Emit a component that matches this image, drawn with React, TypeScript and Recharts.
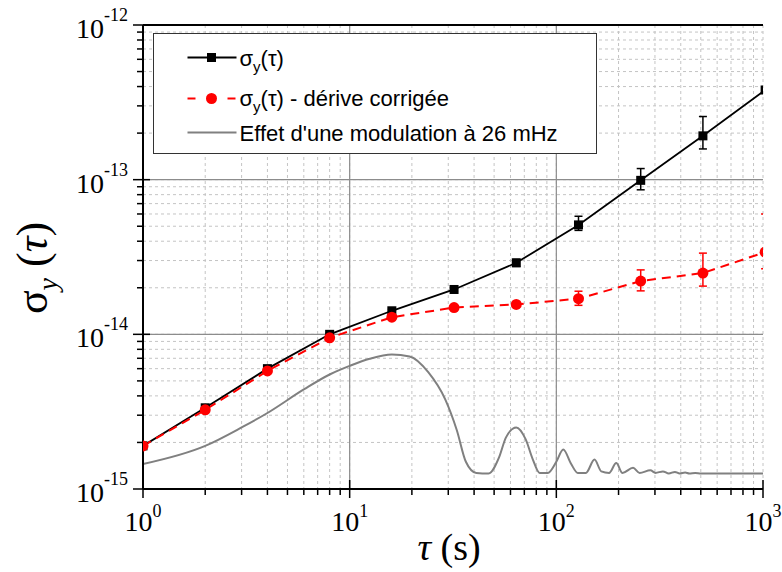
import React from 'react';
import {
  LineChart,
  Line,
  XAxis,
  YAxis,
  CartesianGrid,
  ReferenceLine,
  ErrorBar,
  Legend
} from 'recharts';

// temps d'intégration (s) des mesures
const TAU = [1, 2, 4, 8, 16, 32, 64, 128, 256, 512, 1024];

// écart-type d'Allan brut, avec bornes des barres d'erreur
const SIGMA = [1.9e-15, 3.35e-15, 6.0e-15, 1.0e-14, 1.42e-14, 1.95e-14, 2.9e-14, 5.1e-14, 9.9e-14, 1.92e-13, 3.8e-13];
const SIGMA_LOW = [1.86e-15, 3.28e-15, 5.9e-15, 0.98e-14, 1.39e-14, 1.9e-14, 2.75e-14, 4.7e-14, 8.6e-14, 1.58e-13, 3.8e-13];
const SIGMA_HIGH = [1.94e-15, 3.42e-15, 6.1e-15, 1.02e-14, 1.45e-14, 2.0e-14, 3.05e-14, 5.8e-14, 1.18e-13, 2.56e-13, 3.8e-13];

// écart-type d'Allan après correction de la dérive
const SIGMA_CORR = [1.9e-15, 3.25e-15, 5.8e-15, 9.5e-15, 1.29e-14, 1.49e-14, 1.56e-14, 1.7e-14, 2.21e-14, 2.49e-14, 3.4e-14];
const CORR_LOW = [1.86e-15, 3.18e-15, 5.7e-15, 9.3e-15, 1.26e-14, 1.46e-14, 1.5e-14, 1.54e-14, 1.91e-14, 2.05e-14, 2.65e-14];
const CORR_HIGH = [1.94e-15, 3.32e-15, 5.9e-15, 9.7e-15, 1.32e-14, 1.52e-14, 1.62e-14, 1.9e-14, 2.61e-14, 3.35e-14, 6.0e-14];

// effet d'une modulation à 26 mHz (courbe grise)
const MOD_TAU = [
  1, 2, 3, 4, 6, 8, 10, 12.5, 16, 19.5, 24, 29, 33, 36.5, 41, 47, 53, 57, 64, 71, 77, 83, 91,
  100, 108, 118, 127, 139, 153, 165, 180, 195, 209, 235, 253, 285, 302, 328, 350, 375, 395,
  420, 440, 470, 500, 1000
];
const MOD_SIGMA = [
  1.45e-15, 1.9e-15, 2.5e-15, 3.1e-15, 4.4e-15, 5.5e-15, 6.25e-15, 6.95e-15, 7.4e-15, 7.2e-15,
  5.7e-15, 3.8e-15, 2.4e-15, 1.5e-15, 1.27e-15, 1.26e-15, 1.62e-15, 2.15e-15, 2.5e-15, 2.1e-15,
  1.55e-15, 1.27e-15, 1.27e-15, 1.5e-15, 1.8e-15, 1.45e-15, 1.27e-15, 1.27e-15, 1.55e-15, 1.3e-15,
  1.27e-15, 1.47e-15, 1.27e-15, 1.37e-15, 1.27e-15, 1.32e-15, 1.27e-15, 1.3e-15, 1.26e-15, 1.29e-15,
  1.26e-15, 1.28e-15, 1.26e-15, 1.27e-15, 1.26e-15, 1.26e-15
];

// graduations logarithmiques
const X_DECADES = [1, 10, 100];
const Y_DECADES = [1e-15, 1e-14, 1e-13];
const MULTS = [1, 2, 3, 4, 5, 6, 7, 8, 9];
const X_TICKS = [...X_DECADES.flatMap((d) => MULTS.map((m) => m * d)), 1000];
const Y_TICKS = [...Y_DECADES.flatMap((d) => MULTS.map((m) => m * d)), 1e-12];

const rawData = TAU.map((t, i) => ({
  tau: t,
  sigma: SIGMA[i],
  err: [SIGMA[i] - SIGMA_LOW[i], SIGMA_HIGH[i] - SIGMA[i]]
}));
const corrData = TAU.map((t, i) => ({
  tau: t,
  sigma: SIGMA_CORR[i],
  err: [SIGMA_CORR[i] - CORR_LOW[i], CORR_HIGH[i] - SIGMA_CORR[i]]
}));
const modData = MOD_TAU.map((t, i) => ({ tau: t, sigma: MOD_SIGMA[i] }));

const SERIF = '"Liberation Serif", "Times New Roman", serif';
const SANS = '"Liberation Sans", Arial, sans-serif';
const CLIP = 'url(#plot-clip)';

const isDecade = (v: number) => Math.abs(Math.log10(v) - Math.round(Math.log10(v))) < 1e-6;

const XTick = (props: any) => {
  const { x, y, payload } = props;
  const v = payload.value;
  const major = isDecade(v);
  return (
    <g>
      <line x1={x} x2={x} y1={major ? y - 9 : y} y2={major ? y + 9 : y + 6} stroke="#000" strokeWidth={1.5} />
      {major && (
        <text x={x} y={y + 42} textAnchor="middle" fontFamily={SERIF} fontSize={28} fill="#000">
          10<tspan fontSize={18} dy={-14}>{Math.round(Math.log10(v))}</tspan>
        </text>
      )}
    </g>
  );
};

const YTick = (props: any) => {
  const { x, y, payload } = props;
  const v = payload.value;
  const major = isDecade(v);
  return (
    <g>
      <line x1={major ? x - 10 : x - 6} x2={major ? x + 7 : x} y1={y} y2={y} stroke="#000" strokeWidth={1.5} />
      {major && (
        <text x={x - 15} y={y + 13} textAnchor="end" fontFamily={SERIF} fontSize={28} fill="#000">
          10<tspan fontSize={18} dy={-17}>{Math.round(Math.log10(v))}</tspan>
        </text>
      )}
    </g>
  );
};

const RightTick = (props: any) => {
  const { x, y, payload } = props;
  const major = isDecade(payload.value);
  return <line x1={x} x2={x + (major ? 5 : 3)} y1={y} y2={y} stroke="#000" strokeWidth={1.2} />;
};

// marqueur carré noir
const Square = (props: any) => {
  const { cx, cy, index } = props;
  if (cx == null || cy == null) return <g key={index} />;
  return <rect key={index} x={cx - 4.5} y={cy - 4.5} width={9} height={9} fill="#000" clipPath={CLIP} />;
};

// marqueur rond rouge
const Dot = (props: any) => {
  const { cx, cy, index } = props;
  if (cx == null || cy == null) return <g key={index} />;
  return <circle key={index} cx={cx} cy={cy} r={5.5} fill="#ff0000" clipPath={CLIP} />;
};

const LegendBox = () => (
  <div style={{ width: 444, height: 121, boxSizing: 'border-box', border: '1.5px solid #333', background: '#fff' }}>
    <svg width={441} height={118} style={{ display: 'block' }}>
      <g transform="translate(-1.5,-1.5)">
        <line x1={35} x2={84} y1={25} y2={25} stroke="#000" strokeWidth={1.8} />
        <rect x={54.5} y={20.5} width={9} height={9} fill="#000" />
        <text x={87} y={33} fontFamily={SANS} fontSize={22} fill="#000">
          σ<tspan fontSize={15} dy={6}>y</tspan><tspan dy={-6}>(τ)</tspan>
        </text>

        <line x1={35} x2={43} y1={66} y2={66} stroke="#ff0000" strokeWidth={2} />
        <line x1={75} x2={83} y1={66} y2={66} stroke="#ff0000" strokeWidth={2} />
        <circle cx={59} cy={66} r={5.5} fill="#ff0000" />
        <text x={87} y={73} fontFamily={SANS} fontSize={22} fill="#000">
          σ<tspan fontSize={15} dy={6}>y</tspan><tspan dy={-6}>(τ) - dérive corrigée</tspan>
        </text>

        <line x1={35} x2={84} y1={100} y2={100} stroke="#808080" strokeWidth={2} />
        <text x={87} y={108.5} fontFamily={SANS} fontSize={22} fill="#000">
          Effet d'une modulation à 26 mHz
        </text>
      </g>
    </svg>
  </div>
);

const YTitle = () => (
  <text
    x={47}
    y={268}
    transform="rotate(-90 47 268)"
    textAnchor="middle"
    fontFamily={SERIF}
    fontSize={44}
    fill="#000"
  >
    σ<tspan fontStyle="italic" fontSize={28} dy={10}>y</tspan>
    <tspan dy={-10}> (</tspan>
    <tspan fontStyle="italic">τ</tspan>
    <tspan>)</tspan>
  </text>
);

const XTitle = () => (
  <text x={449} y={560} textAnchor="middle" fontFamily={SERIF} fontSize={38} fill="#000">
    <tspan fontStyle="italic">τ</tspan>
    <tspan> (s)</tspan>
  </text>
);

export default function App() {
  return (
    <div style={{ position: 'absolute', left: 0, top: 0, width: 782, height: 572, background: '#fff' }}>
      <svg width={0} height={0} style={{ position: 'absolute' }}>
        <defs>
          <clipPath id="plot-clip" clipPathUnits="userSpaceOnUse">
            <rect x={143} y={25} width={620} height={464} />
          </clipPath>
        </defs>
      </svg>
      <LineChart width={782} height={572} margin={{ top: 25, right: 19, bottom: 0, left: 0 }}>
        <CartesianGrid stroke="#c4c4c4" strokeDasharray="3 3" strokeWidth={1} />
        {X_DECADES.slice(1).map((v) => (
          <ReferenceLine key={`vx${v}`} x={v} stroke="#8c8c8c" strokeWidth={1.2} />
        ))}
        {Y_DECADES.slice(1).map((v) => (
          <ReferenceLine key={`hy${v}`} y={v} stroke="#8c8c8c" strokeWidth={1.2} />
        ))}
        <ReferenceLine y={1e-12} stroke="#000" strokeWidth={2} />
        <XAxis
          dataKey="tau"
          type="number"
          scale="log"
          domain={[1, 1000]}
          allowDataOverflow
          ticks={X_TICKS}
          interval={0}
          height={83}
          tickSize={0}
          tickMargin={0}
          tickLine={false}
          axisLine={{ stroke: '#000', strokeWidth: 2 }}
          tick={<XTick />}
          label={<XTitle />}
        />
        <YAxis
          type="number"
          scale="log"
          domain={[1e-15, 1e-12]}
          allowDataOverflow
          ticks={Y_TICKS}
          interval={0}
          width={143}
          tickSize={0}
          tickMargin={0}
          tickLine={false}
          axisLine={{ stroke: '#000', strokeWidth: 2 }}
          tick={<YTick />}
          label={<YTitle />}
        />
        <YAxis
          yAxisId="right"
          orientation="right"
          type="number"
          scale="log"
          domain={[1e-15, 1e-12]}
          allowDataOverflow
          ticks={Y_TICKS}
          interval={0}
          width={0}
          tickSize={0}
          tickMargin={0}
          tickLine={false}
          axisLine={{ stroke: '#000', strokeWidth: 2 }}
          tick={<RightTick />}
        />
        <Line
          data={modData}
          dataKey="sigma"
          type="monotone"
          stroke="#808080"
          strokeWidth={2}
          dot={false}
          isAnimationActive={false}
        />
        <Line
          data={rawData}
          dataKey="sigma"
          type="linear"
          stroke="#000"
          strokeWidth={1.8}
          dot={(p: any) => <Square {...p} key={`s${p.index}`} />}
          isAnimationActive={false}
        >
          <ErrorBar dataKey="err" width={4} stroke="#000" strokeWidth={1.5} direction="y" clipPath={CLIP} />
        </Line>
        <Line
          data={corrData}
          dataKey="sigma"
          type="linear"
          stroke="#ff0000"
          strokeWidth={2}
          strokeDasharray="9 6"
          dot={(p: any) => <Dot {...p} key={`c${p.index}`} />}
          isAnimationActive={false}
        >
          <ErrorBar dataKey="err" width={4} stroke="#ff0000" strokeWidth={1.5} direction="y" clipPath={CLIP} />
        </Line>
        <Legend
          layout="vertical"
          align="center"
          verticalAlign="middle"
          wrapperStyle={{ left: 153, top: 33, width: 444, height: 121 }}
          content={() => <LegendBox />}
        />
      </LineChart>
    </div>
  );
}
